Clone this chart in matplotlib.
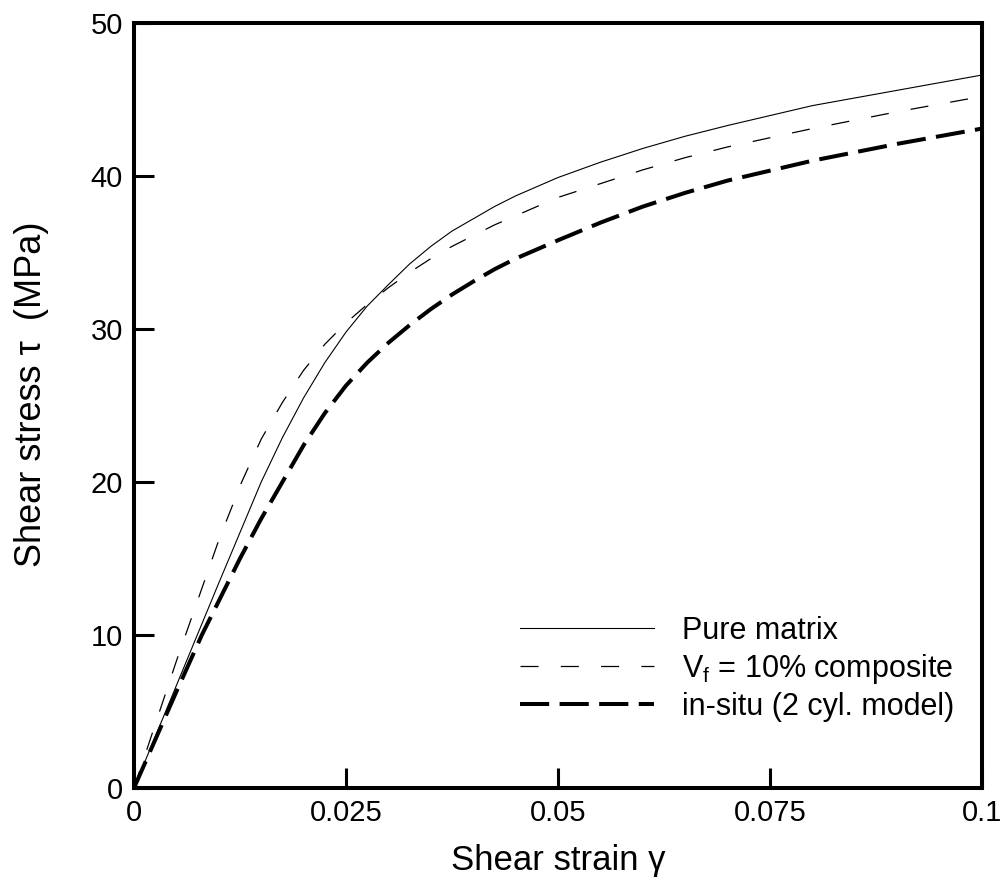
import matplotlib
matplotlib.use("Agg")
import matplotlib.pyplot as plt

plt.rcParams['font.family'] = ['Liberation Sans', 'DejaVu Sans']
plt.rcParams['mathtext.fontset'] = 'custom'
plt.rcParams['mathtext.rm'] = 'Liberation Sans'
plt.rcParams['mathtext.it'] = 'Liberation Sans'
plt.rcParams['lines.scale_dashes'] = False

# Data
pure_strain = [0, 0.005, 0.010, 0.0125, 0.015, 0.0175, 0.020, 0.0225, 0.025, 0.0275, 0.030,
               0.0325, 0.035, 0.0375, 0.040, 0.0425, 0.045, 0.0475, 0.050, 0.055,
               0.060, 0.065, 0.070, 0.080, 0.090, 0.100]
pure_stress = [0, 6.7, 13.4, 16.7, 20.0, 22.9, 25.5, 27.8, 29.8, 31.5, 32.9,
               34.25, 35.4, 36.4, 37.2, 38.0, 38.7, 39.3, 39.9, 40.9,
               41.8, 42.6, 43.3, 44.6, 45.6, 46.6]

comp_strain = [0, 0.005, 0.010, 0.0127, 0.015, 0.0175, 0.020, 0.0225, 0.025, 0.0275, 0.030,
               0.0325, 0.035, 0.0375, 0.040, 0.0425, 0.045, 0.0475, 0.050, 0.055,
               0.060, 0.065, 0.070, 0.080, 0.090, 0.100]
comp_stress = [0, 8.3, 16.2, 20.0, 22.8, 25.2, 27.3, 29.0, 30.4, 31.6, 32.7,
               33.7, 34.6, 35.4, 36.1, 36.8, 37.4, 38.0, 38.6, 39.5,
               40.4, 41.2, 41.9, 43.1, 44.2, 45.2]

insitu_strain = [0, 0.005, 0.008, 0.0125, 0.015, 0.0175, 0.020, 0.0225, 0.025, 0.0275, 0.030,
                 0.0325, 0.035, 0.0375, 0.040, 0.0425, 0.045, 0.0475, 0.050, 0.055,
                 0.060, 0.065, 0.070, 0.080, 0.090, 0.100]
insitu_stress = [0, 6.3, 10.0, 15.0, 17.6, 20.0, 22.4, 24.5, 26.3, 27.8, 29.1,
                 30.25, 31.3, 32.25, 33.1, 33.9, 34.6, 35.2, 35.8, 36.95,
                 38.0, 38.9, 39.7, 41.0, 42.1, 43.1]

labels = ["Pure matrix", r"V$_\mathrm{f}$ = 10% composite", "in-situ (2 cyl. model)"]
xticks = [0, 0.025, 0.05, 0.075, 0.1]
xticklabels = ["0", "0.025", "0.05", "0.075", "0.1"]
yticks = [0, 10, 20, 30, 40, 50]

fig = plt.figure(figsize=(10.08, 8.86), dpi=100)
ax = fig.add_axes([134/1008, 1-788/886, (982-134)/1008, (788-23)/886])

ax.plot(pure_strain, pure_stress, color='black', lw=0.8, label=labels[0])
ax.plot(comp_strain, comp_stress, color='black', lw=0.9, dashes=(13, 16), label=labels[1])
ax.plot(insitu_strain, insitu_stress, color='black', lw=2.9, dashes=(21, 7.5), label=labels[2])

ax.set_xlim(0, 0.1)
ax.set_ylim(0, 50)
ax.set_xticks(xticks)
ax.set_xticklabels(xticklabels)
ax.set_yticks(yticks)
for s in ax.spines.values():
    s.set_linewidth(2.9)
ax.tick_params(direction='in', length=14.5, width=2.2, labelsize=21, pad=8)

ax.set_xlabel("Shear strain γ", fontsize=25, labelpad=12)
ax.set_ylabel("Shear stress τ  (MPa)", fontsize=26, labelpad=30, y=0.515)

leg = ax.legend(loc='upper left', bbox_to_anchor=(0.455, 0.225), frameon=False,
                fontsize=22, handlelength=4.4, handletextpad=0.9, labelspacing=0.2,
                borderpad=0, borderaxespad=0)

fig.savefig("out.png", dpi=100)
